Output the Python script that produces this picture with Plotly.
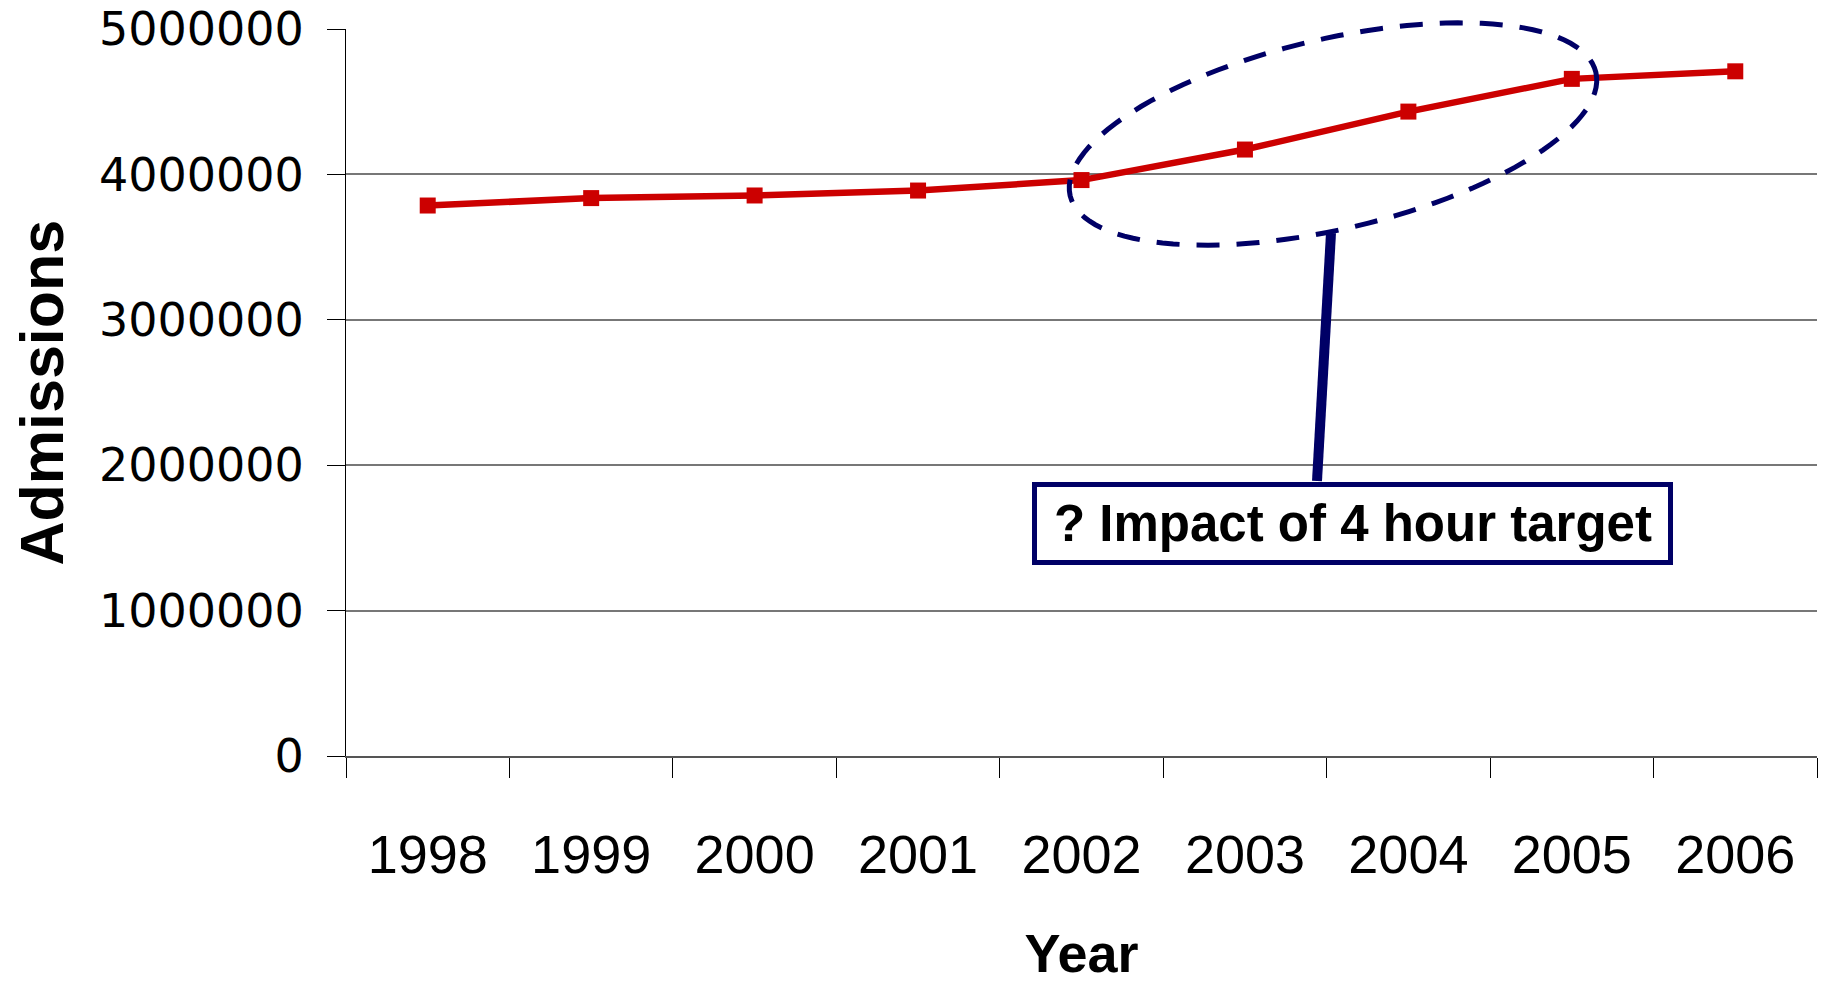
import math
import plotly.graph_objects as go

# Hospital admissions per year
years = ["1998", "1999", "2000", "2001", "2002", "2003", "2004", "2005", "2006"]
admissions = [3786000, 3837000, 3855000, 3889000, 3961000, 4171000, 4432000, 4657000, 4709000]
y_ticks = [0, 1000000, 2000000, 3000000, 4000000, 5000000]
y_tick_labels = ["0", "1000000", "2000000", "3000000", "4000000", "5000000"]

RED = "#CC0000"
NAVY = "#000066"
SANS = "Liberation Sans, Arial, sans-serif"

W, H = 1824, 983
M_L, M_R, M_T, M_B = 346, 7, 29, 227
plot_w = W - M_L - M_R
plot_h = H - M_T - M_B
Y_MAX = 5000000


def to_paper(px, py):
    """Convert a page pixel position to paper coordinates of the plot area."""
    return (px - M_L) / plot_w, (H - M_B - py) / plot_h


fig = go.Figure()
fig.add_trace(go.Scatter(
    x=years, y=admissions, mode="lines+markers",
    line=dict(color=RED, width=6.5),
    marker=dict(symbol="square", size=16, color=RED, line=dict(width=0)),
    showlegend=False, hoverinfo="x+y",
))

# Dashed, tilted ellipse highlighting 2002-2005
ell_cx, ell_cy = 1333, 134          # centre (page pixels)
ell_a, ell_b = 270, 95              # semi-axes (pixels)
ell_tilt = math.radians(13.2)       # counter-clockwise tilt
pts = []
for k in range(0, 361, 3):
    t = math.radians(k)
    dx = ell_a * math.cos(t) * math.cos(ell_tilt) + ell_b * math.sin(t) * math.sin(ell_tilt)
    dy = -ell_a * math.cos(t) * math.sin(ell_tilt) + ell_b * math.sin(t) * math.cos(ell_tilt)
    pts.append(to_paper(ell_cx + dx, ell_cy + dy))
ell_path = "M " + " L ".join(f"{x:.5f},{y:.5f}" for x, y in pts) + " Z"

# Callout pointer and box
p0 = to_paper(1317, 481)
p1 = to_paper(1331, 233)
b0 = to_paper(1034.5, 484.5)
b1 = to_paper(1670.5, 562.5)

shapes = [
    dict(type="line", xref="paper", yref="paper", x0=p0[0], y0=p0[1], x1=p1[0], y1=p1[1],
         line=dict(color=NAVY, width=10)),
    dict(type="path", xref="paper", yref="paper", path=ell_path,
         line=dict(color=NAVY, width=5, dash="23px,17px")),
    dict(type="rect", xref="paper", yref="paper", x0=b0[0], y0=b0[1], x1=b1[0], y1=b1[1],
         line=dict(color=NAVY, width=5), fillcolor="white"),
]

fig.add_annotation(
    x=(b0[0] + b1[0]) / 2, y=(b0[1] + b1[1]) / 2, xref="paper", yref="paper",
    text="<b>? Impact of 4 hour target</b>", showarrow=False,
    font=dict(family=SANS, size=51, color="black"),
    xanchor="center", yanchor="middle",
)

# Vertical axis title, placed left of the tick labels
fig.add_annotation(
    x=to_paper(41, 0)[0], y=0.5, xref="paper", yref="paper",
    text="<b>Admissions</b>", showarrow=False, textangle=-90,
    font=dict(family=SANS, size=61, color="black"),
    xanchor="center", yanchor="middle",
)

fig.update_layout(
    width=W, height=H, autosize=False,
    margin=dict(l=M_L, r=M_R, t=M_T, b=M_B),
    paper_bgcolor="white", plot_bgcolor="white",
    shapes=shapes,
    xaxis=dict(
        type="category", categoryorder="array", categoryarray=years,
        range=[-0.5, len(years) - 0.5], automargin=False,
        tickson="boundaries", ticks="outside", ticklen=20, tickwidth=1, tickcolor="black",
        showline=True, linecolor="#555555", linewidth=2,
        showgrid=False, zeroline=False,
        tickfont=dict(family=SANS, size=54, color="black"),
        ticklabelstandoff=50,
        title=dict(text="<b>Year</b>", standoff=58,
                   font=dict(family=SANS, size=54, color="black")),
    ),
    yaxis=dict(
        range=[0, Y_MAX], tickvals=y_ticks, ticktext=y_tick_labels, automargin=False,
        ticks="outside", ticklen=18, tickwidth=1, tickcolor="black",
        showline=True, linecolor="black", linewidth=1,
        showgrid=True, gridcolor="#777777", gridwidth=1.5, zeroline=False,
        tickfont=dict(family="DejaVu Sans, Liberation Sans", size=46, color="black"),
        ticklabelstandoff=14,
    ),
)

fig.write_html("out.html")
